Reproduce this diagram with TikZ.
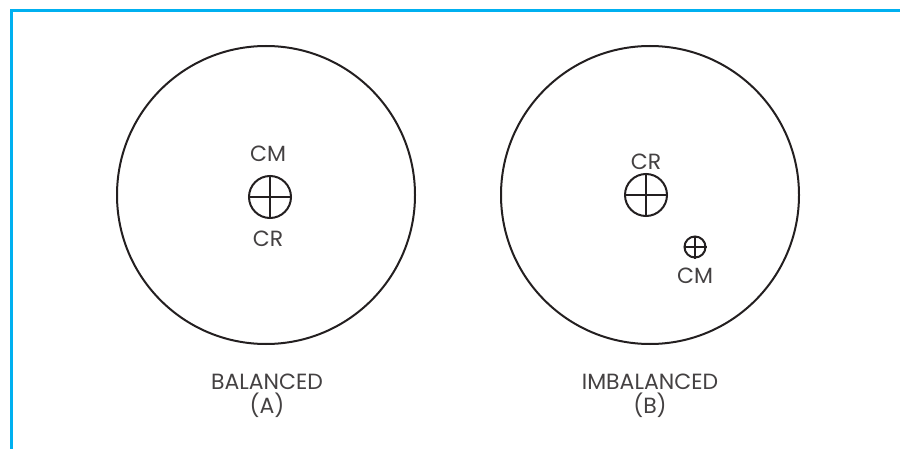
\documentclass[tikz,border=0pt]{standalone}
\usepackage{fontspec}
\setmainfont{Poppins}
\definecolor{framecyan}{RGB}{0,176,240}
\definecolor{ink}{RGB}{35,31,32}
\begin{document}
\begin{tikzpicture}[x=0.5pt,y=-0.5pt,
  disk/.style={circle,draw=ink,line width=1pt,minimum size=149pt,inner sep=0pt},
  target/.style={circle,draw=ink,line width=1pt,inner sep=0pt},
  lbl/.style={font=\fontsize{11}{12}\selectfont,text=ink!85,inner sep=0pt},
  crossmark/.style={draw=ink,line width=1pt}]
\useasboundingbox (0,0) rectangle (900,449);
% frame
\draw[framecyan,line width=1.6pt,line join=miter] (11.5,449) -- (11.5,10.5) -- (900,10.5);
% balanced rotor
\node[disk] (rotA) at (266,195) {};
\node[target,minimum size=21pt] (cA) at (270,197) {};
\draw[crossmark] (cA.north) -- (cA.south) (cA.west) -- (cA.east);
\node[lbl] (cmA) at (268,154) {CM};
\node[lbl] (crA) at (268,239) {CR};
\node[lbl,align=center] (capA) at (267,396) {BALANCED\\(A)};
% imbalanced rotor
\node[disk] (rotB) at (650,195) {};
\node[target,minimum size=21pt] (crB) at (646,195) {};
\draw[crossmark] (crB.north) -- (crB.south) (crB.west) -- (crB.east);
\node[target,minimum size=10.5pt] (cmB) at (695,247) {};
\draw[crossmark] (cmB.north) -- (cmB.south) (cmB.west) -- (cmB.east);
\node[lbl] (crBl) at (646,162) {CR};
\node[lbl] (cmBl) at (695,276) {CM};
\node[lbl,align=center] (capB) at (650,396) {IMBALANCED\\(B)};
\end{tikzpicture}
\end{document}
